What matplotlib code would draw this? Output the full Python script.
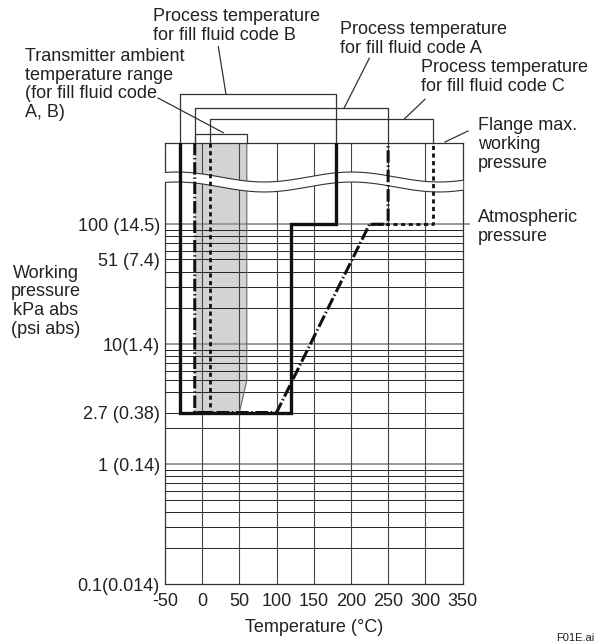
import numpy as np
import matplotlib.pyplot as plt
import matplotlib.transforms as mtransforms
from matplotlib.ticker import NullLocator, NullFormatter

plt.rcParams['font.family'] = ['Liberation Sans', 'DejaVu Sans']
plt.rcParams['lines.scale_dashes'] = False

W, H = 594, 643

# axis ticks
temp_ticks = [-50, 0, 50, 100, 150, 200, 250, 300, 350]
press_ticks = [0.1, 1, 2.7, 10, 51, 100]
press_labels = ['0.1(0.014)', '1 (0.14)', '2.7 (0.38)', '10(1.4)', '51 (7.4)', '100 (14.5)']

FLANGE = 478.0   # top of the chart = flange max. working pressure (off scale)
ATM = 100        # atmospheric pressure, kPa abs

# fill fluid code B (solid), A (dash-dot), C (dashed)
temp_B = [-30, -30, 120, 120, 180, 180]
press_B = [FLANGE, 2.7, 2.7, 100, 100, FLANGE]
temp_A = [-10, -10, 100, 225, 250, 250]
press_A = [FLANGE, 2.7, 2.7, 100, 100, FLANGE]
temp_C = [10, 10, np.nan, 225, 310, 310]
press_C = [FLANGE, 2.7, np.nan, 100, 100, FLANGE]

# transmitter ambient temperature range (fill fluid code A, B)
amb_temp = [-10, -10, 60, 60, 50]
amb_press = [2.7, FLANGE, FLANGE, 5, 2.7]

LINE = 18  # px between text baselines


def fpos(x, y):
    # pixel position (from top-left) -> figure fraction
    return x / W, 1 - y / H


def block(x, y, s, **kw):
    # y = baseline of the first line, in pixels
    n = s.count('\n')
    fig.text(*fpos(x, y + n * LINE), s, va='baseline', fontsize=13,
             linespacing=1.14, color='#222222', **kw)


fig = plt.figure(figsize=(W / 100, H / 100), dpi=100)
ax = fig.add_axes([165 / W, 1 - 584.3 / H, 297.5 / W, 441.6 / H])
ax.set_yscale('log')
ax.set_xlim(-50, 350)
ax.set_ylim(0.1, FLANGE)
trans = mtransforms.blended_transform_factory(ax.transData, ax.transAxes)

# grid
minor = [m * 10.0 ** e for e in (-1, 0, 1) for m in range(2, 10)]
minor = [v for v in minor if v not in (3.0, 50.0)] + [2.7, 51]
ax.hlines(minor, -50, 350, colors='#222222', lw=0.7, zorder=1)
ax.hlines([1, 10], -50, 350, colors='#9a9a9a', lw=1.4, zorder=1)
ax.hlines(ATM, -50, 360, colors='#9a9a9a', lw=1.4, zorder=1, clip_on=False)
ax.vlines(temp_ticks[1:-1], 0.1, FLANGE, colors='#444444', lw=0.8, zorder=1)

# ambient band
ax.fill(amb_temp, amb_press, color='#d3d3d3', lw=0, zorder=0.5)
ax.plot(amb_temp[2:], amb_press[2:], color='#666666', lw=0.8, zorder=1.2)

# wavy break between flange box and the chart
xs = np.linspace(-51, 351, 400)
wave = 0.0113 * np.cos(2 * np.pi * (xs + 34) / 235)
up = 0.9223 + wave
lo = 0.8997 + wave
ax.fill(np.r_[xs, xs[::-1]], np.r_[lo, up[::-1]], color='white', lw=0,
        transform=trans, zorder=3, clip_on=False)
inside = (xs >= -50) & (xs <= 350)
ax.plot(xs[inside], up[inside], color='#333333', lw=0.8, transform=trans, zorder=3.1)
ax.plot(xs[inside], lo[inside], color='#333333', lw=0.8, transform=trans, zorder=3.1)

# fill fluid curves
ax.plot(temp_B, press_B, color='#111111', lw=2.4, solid_joinstyle='miter', zorder=4)
ax.plot(temp_A, press_A, color='#111111', lw=2.2, dashes=(9, 2, 1, 2), zorder=4)
ax.plot(temp_C, press_C, color='#111111', lw=2.0, dashes=(3, 2.5), zorder=4)

# brackets on top
for temps, yb in [(temp_B, 1.1096), (temp_A, 1.0793), (temp_C, 1.0537), (amb_temp, 1.0197)]:
    t0, t1 = np.nanmin(temps), np.nanmax(temps)
    ax.plot([t0, t0, t1, t1], [1.0, yb, yb, 1.0], color='#333333', lw=0.9,
            transform=trans, clip_on=False, zorder=2)

for sp in ax.spines.values():
    sp.set_color('#333333')
    sp.set_linewidth(0.9)

ax.set_xticks(temp_ticks, labels=[str(t) for t in temp_ticks])
ax.set_yticks(press_ticks, labels=press_labels)
ax.yaxis.set_minor_locator(NullLocator())
ax.yaxis.set_minor_formatter(NullFormatter())
ax.tick_params(axis='both', length=0, labelsize=13, colors='#222222')
ax.tick_params(axis='x', pad=6)
ax.tick_params(axis='y', pad=3.6)
ax.set_xlabel('Temperature (°C)', fontsize=13, labelpad=7, color='#222222')

# leader lines
leaders = [((226, 94.3), (218.3, 46.7)),
           ((344.3, 107.7), (369.3, 58.3)),
           ((404.3, 119), (425, 99.3)),
           ((223.3, 132.7), (158, 98)),
           ((445, 142), (468, 131))]
for p0, p1 in leaders:
    (x0, y0), (x1, y1) = fpos(*p0), fpos(*p1)
    fig.add_artist(plt.Line2D([x0, x1], [y0, y1], transform=fig.transFigure,
                              color='#333333', lw=0.9))

block(153, 22, 'Process temperature\nfor fill fluid code B', ha='left')
block(340, 35, 'Process temperature\nfor fill fluid code A', ha='left')
block(420.7, 73.3, 'Process temperature\nfor fill fluid code C', ha='left')
block(25, 63.3, 'Transmitter ambient\ntemperature range\n(for fill fluid code\nA, B)', ha='left')
block(478, 131.7, 'Flange max.\nworking\npressure', ha='left')
block(478, 223.3, 'Atmospheric\npressure', ha='left')
block(46, 280, 'Working\npressure\nkPa abs\n(psi abs)', ha='center', multialignment='center')

fig.text(*fpos(556, 641), 'F01E.ai', ha='left', va='baseline', fontsize=8, color='#222222')

fig.savefig('out.png', dpi=100)
